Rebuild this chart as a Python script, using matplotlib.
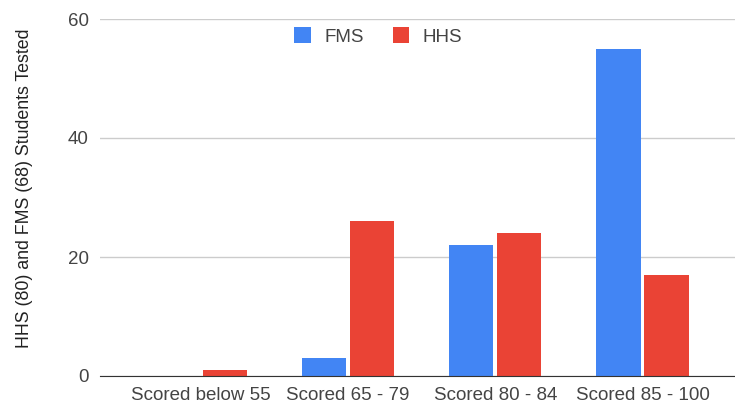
import matplotlib.pyplot as plt
import numpy as np

plt.rcParams['font.family'] = ['Liberation Sans', 'DejaVu Sans']

categories = ["Scored below 55", "Scored 65 - 79", "Scored 80 - 84", "Scored 85 - 100"]
fms = [0, 3, 22, 55]
hhs = [1, 26, 24, 17]

blue = "#4285F4"
red = "#EA4335"

fig = plt.figure(figsize=(7.35, 4.03), dpi=100)
ax = fig.add_axes([100/735, 27/403, 635/735, 357/403])

x = np.arange(len(categories))
w = 0.30
off = 0.163
ax.bar(x - off, fms, w, color=blue, label="FMS", zorder=3)
ax.bar(x + off, hhs, w, color=red, label="HHS", zorder=3)

ax.set_ylim(0, 60)
ax.set_xlim(-0.686, 3.628)
ax.set_yticks([0, 20, 40, 60])
ax.set_xticks(x)
ax.set_xticklabels(categories)
ax.grid(axis='y', color='#cccccc', linewidth=1, zorder=0)
ax.tick_params(axis='both', length=0, labelsize=13.5, colors='#444444')
ax.tick_params(axis='y', pad=8)
ax.tick_params(axis='x', pad=8)
for s in ['top', 'right', 'left']:
    ax.spines[s].set_visible(False)
ax.spines['bottom'].set_color('#333333')
ax.spines['bottom'].set_zorder(4)

ax.set_ylabel("HHS (80) and FMS (68) Students Tested", fontsize=12.8, color='#222222')
ax.yaxis.set_label_coords(-0.105, 0.527)

leg = ax.legend(loc='center', bbox_to_anchor=(0.438, 0.951), ncol=2, frameon=False,
                fontsize=13.5, handlelength=0.9, handleheight=0.9, columnspacing=1.55,
                handletextpad=0.7)
for t in leg.get_texts():
    t.set_color('#444444')

fig.savefig("out.png", dpi=100)
